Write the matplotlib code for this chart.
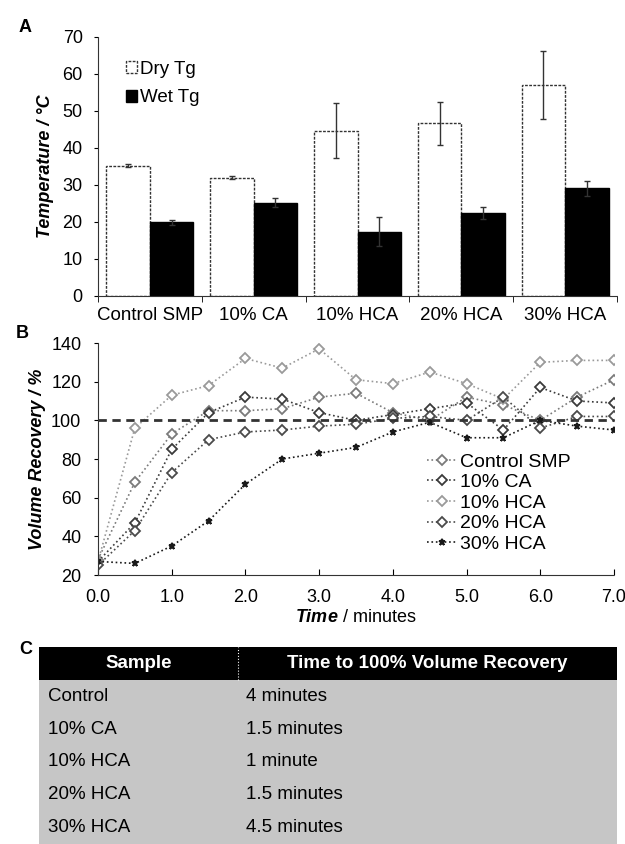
import matplotlib.pyplot as plt
import numpy as np

plt.rcParams['font.family'] = ['Liberation Sans', 'DejaVu Sans']
plt.rcParams['mathtext.fontset'] = 'custom'
plt.rcParams['mathtext.rm'] = 'Liberation Sans'
plt.rcParams['mathtext.bf'] = 'Liberation Sans:bold'
plt.rcParams['mathtext.it'] = 'Liberation Sans:italic'
plt.rcParams['mathtext.bfit'] = 'Liberation Sans:bold:italic'

# panel A data
groups = ['Control SMP', '10% CA', '10% HCA', '20% HCA', '30% HCA']
dry_tg = [35.2, 32.0, 44.7, 46.7, 57.0]
dry_err = [0.4, 0.4, 7.5, 5.8, 9.2]
wet_tg = [19.9, 25.2, 17.4, 22.4, 29.1]
wet_err = [0.6, 1.2, 4.0, 1.6, 2.0]

# panel B data
times = [0.0, 0.5, 1.0, 1.5, 2.0, 2.5, 3.0, 3.5, 4.0, 4.5, 5.0, 5.5, 6.0, 6.5, 7.0]
control_smp = [28, 68, 93, 105, 105, 106, 112, 114, 104, 100, 112, 108, 100, 112, 121]
ca_10 = [27, 47, 85, 104, 112, 111, 104, 100, 103, 106, 109, 95, 117, 110, 109]
hca_10 = [27, 96, 113, 118, 132, 127, 137, 121, 119, 125, 119, 111, 130, 131, 131]
hca_20 = [25, 43, 73, 90, 94, 95, 97, 98, 101, 102, 100, 112, 96, 102, 102]
hca_30 = [27, 26, 35, 48, 67, 80, 83, 86, 94, 99, 91, 91, 100, 97, 95]

# panel C data
samples = ['Control', '10% CA', '10% HCA', '20% HCA', '30% HCA']
recovery_times = ['4 minutes', '1.5 minutes', '1 minute', '1.5 minutes', '4.5 minutes']

fig = plt.figure(figsize=(6.25, 8.44), dpi=100)
spine_ls = (0, (2, 1))

# ---------- A ----------
ax1 = fig.add_axes([0.1568, 0.6493, 0.8304, 0.3069])
x = np.arange(len(groups))
w = 0.42
ax1.bar(x - w / 2, dry_tg, w, color='white', edgecolor='#333333', linewidth=1,
        linestyle=spine_ls, label='Dry Tg',
        yerr=dry_err, error_kw=dict(ecolor='#333333', elinewidth=1, capsize=2, ls=':'))
ax1.bar(x + w / 2, wet_tg, w, color='black', edgecolor='black', label='Wet Tg',
        yerr=wet_err, error_kw=dict(ecolor='#333333', elinewidth=1, capsize=2))
ax1.set_xlim(-0.5, 4.5)
ax1.set_ylim(0, 70)
ax1.set_yticks(range(0, 71, 10))
ax1.set_xticks(x)
ax1.set_xticklabels(groups, fontsize=13.5)
ax1.set_xticks(np.arange(-0.5, 4.6, 1), minor=True)
ax1.tick_params(axis='x', which='major', length=0, pad=8)
ax1.tick_params(axis='x', which='minor', length=4, direction='out')
ax1.tick_params(axis='y', labelsize=13, length=3, direction='out', pad=8)
for s in ['top', 'right']:
    ax1.spines[s].set_visible(False)
for s in ['left', 'bottom']:
    ax1.spines[s].set_linestyle(spine_ls)
    ax1.spines[s].set_color('#333333')
ax1.set_ylabel('Temperature / °C', fontsize=13, fontweight='bold', style='italic', labelpad=6)
ax1.legend(loc='upper left', bbox_to_anchor=(0.025, 0.965), frameon=False, fontsize=13.5,
           handlelength=0.6, handleheight=0.6, handletextpad=0.15, labelspacing=0.6,
           borderaxespad=0.4)
fig.text(0.03, 0.962, 'A', fontsize=13, fontweight='bold')

# ---------- B ----------
ax2 = fig.add_axes([0.1568, 0.3187, 0.8256, 0.2749])
series = [
    ('Control SMP', control_smp, '#7a7a7a', 'D'),
    ('10% CA', ca_10, '#3a3a3a', 'D'),
    ('10% HCA', hca_10, '#9a9a9a', 'D'),
    ('20% HCA', hca_20, '#4a4a4a', 'D'),
    ('30% HCA', hca_30, '#1a1a1a', '*'),
]
for name, vals, col, mk in series:
    ax2.plot(times, vals, linestyle=':', color=col, linewidth=1.2, marker=mk,
             markersize=5, markerfacecolor='white', markeredgecolor=col,
             markeredgewidth=1.3, label=name)
ax2.axhline(100, color='#333333', linestyle=(0, (3, 2)), linewidth=2)
ax2.set_xlim(0, 7)
ax2.set_ylim(20, 140)
ax2.set_yticks(range(20, 141, 20))
ax2.set_xticks(range(0, 8))
ax2.set_xticklabels(['%.1f' % v for v in range(0, 8)])
ax2.tick_params(axis='x', labelsize=13, direction='in', length=4, pad=10)
ax2.tick_params(axis='y', labelsize=13, direction='out', length=3, pad=9)
for s in ['top', 'right']:
    ax2.spines[s].set_visible(False)
for s in ['left', 'bottom']:
    ax2.spines[s].set_linestyle(spine_ls)
    ax2.spines[s].set_color('#333333')
ax2.set_ylabel('Volume Recovery / %', fontsize=13, fontweight='bold', style='italic', labelpad=4)
ax2.set_xlabel(r'$\mathbfit{Time}$ / minutes', fontsize=13, labelpad=2)
ax2.legend(loc='lower right', bbox_to_anchor=(0.95, 0.02), frameon=False, fontsize=14,
           handlelength=1.5, handletextpad=0.2, labelspacing=0.15)
fig.text(0.025, 0.6, 'B', fontsize=13, fontweight='bold')

# ---------- C ----------
ax3 = fig.add_axes([0.0624, 0.0, 0.9248, 0.2334])
ax3.axis('off')
cell_text = [[s, t] for s, t in zip(samples, recovery_times)]
tbl = ax3.table(cellText=cell_text, colLabels=['Sample', 'Time to 100% Volume Recovery'],
                colWidths=[199 / 578, 379 / 578], bbox=[0, 0, 1, 1], cellLoc='left')
tbl.auto_set_font_size(False)
for (r, c), cell in tbl.get_celld().items():
    cell.set_linewidth(0)
    if r == 0:
        cell.set_facecolor('black')
        cell.get_text().set_color('white')
        cell.get_text().set_fontweight('bold')
        cell.get_text().set_ha('center')
        cell._loc = 'center'
        cell.set_fontsize(13.5)
    else:
        cell.set_facecolor('#c6c6c6')
        cell.set_fontsize(13.5)
        cell.PAD = 0.045 if c == 0 else 0.02
# thin divider in header
ax3.axvline(199 / 578, ymin=5 / 6, ymax=1, color='white', linewidth=0.8, linestyle=':')
fig.text(0.03, 0.225, 'C', fontsize=13, fontweight='bold')

fig.savefig('out.png', dpi=100)
